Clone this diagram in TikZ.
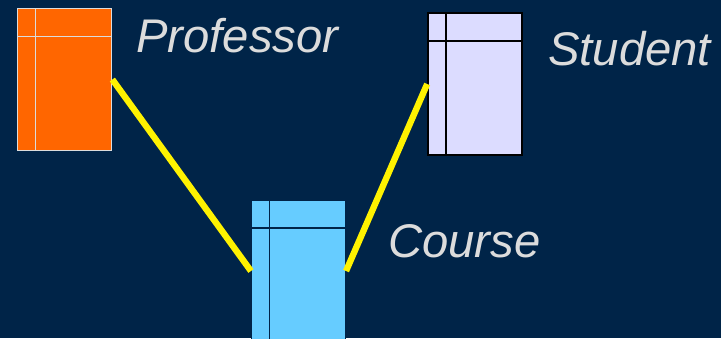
\documentclass[tikz,border=0pt]{standalone}
\usepackage{fontspec}
\setmainfont{Liberation Sans}
\definecolor{navy}{RGB}{0,36,72}
\definecolor{profcol}{RGB}{255,102,0}
\definecolor{studcol}{RGB}{220,220,255}
\definecolor{coursecol}{RGB}{102,204,255}
\definecolor{labelcol}{RGB}{220,220,220}
\tikzset{
  classbox/.style={draw=#1, rectangle, minimum width=2.35cm, minimum height=3.55cm, inner sep=0pt,
    path picture={
      \draw[#1, line width=1.4pt] ([xshift=0.45cm]path picture bounding box.north west) -- ([xshift=0.45cm]path picture bounding box.south west);
      \draw[#1, line width=1.4pt] ([yshift=-0.7cm]path picture bounding box.north west) -- ([yshift=-0.7cm]path picture bounding box.north east);
    }},
  classname/.style={text=labelcol, inner sep=0pt, anchor=base west, font=\fontsize{33.6}{40}\selectfont\itshape},
  assoc/.style={yellow, line width=4.5pt}
}
\begin{document}
\begin{tikzpicture}
\useasboundingbox (0,0) rectangle (18.025,8.45);
\clip (0,0) rectangle (18.025,8.45);
\fill[navy] (0,0) rectangle (18.025,8.45);
\node[classbox=labelcol, fill=profcol, line width=1.2pt] (P) at (1.6125,6.4625) {};
\node[classbox=black, fill=studcol, line width=1.2pt] (S) at (11.875,6.35) {};
\node[classbox=navy, fill=coursecol, line width=0.8pt] (C) at (7.4625,1.675) {};
\node[classname] (Plabel) at (3.4,7.15) {Professor};
\node[classname] (Slabel) at (13.7,6.825) {Student};
\node[classname] (Clabel) at (9.7,2.025) {Course};
\draw[assoc] (P.east) -- (C.west);
\draw[assoc] (S.west) -- (C.east);
\end{tikzpicture}
\end{document}
